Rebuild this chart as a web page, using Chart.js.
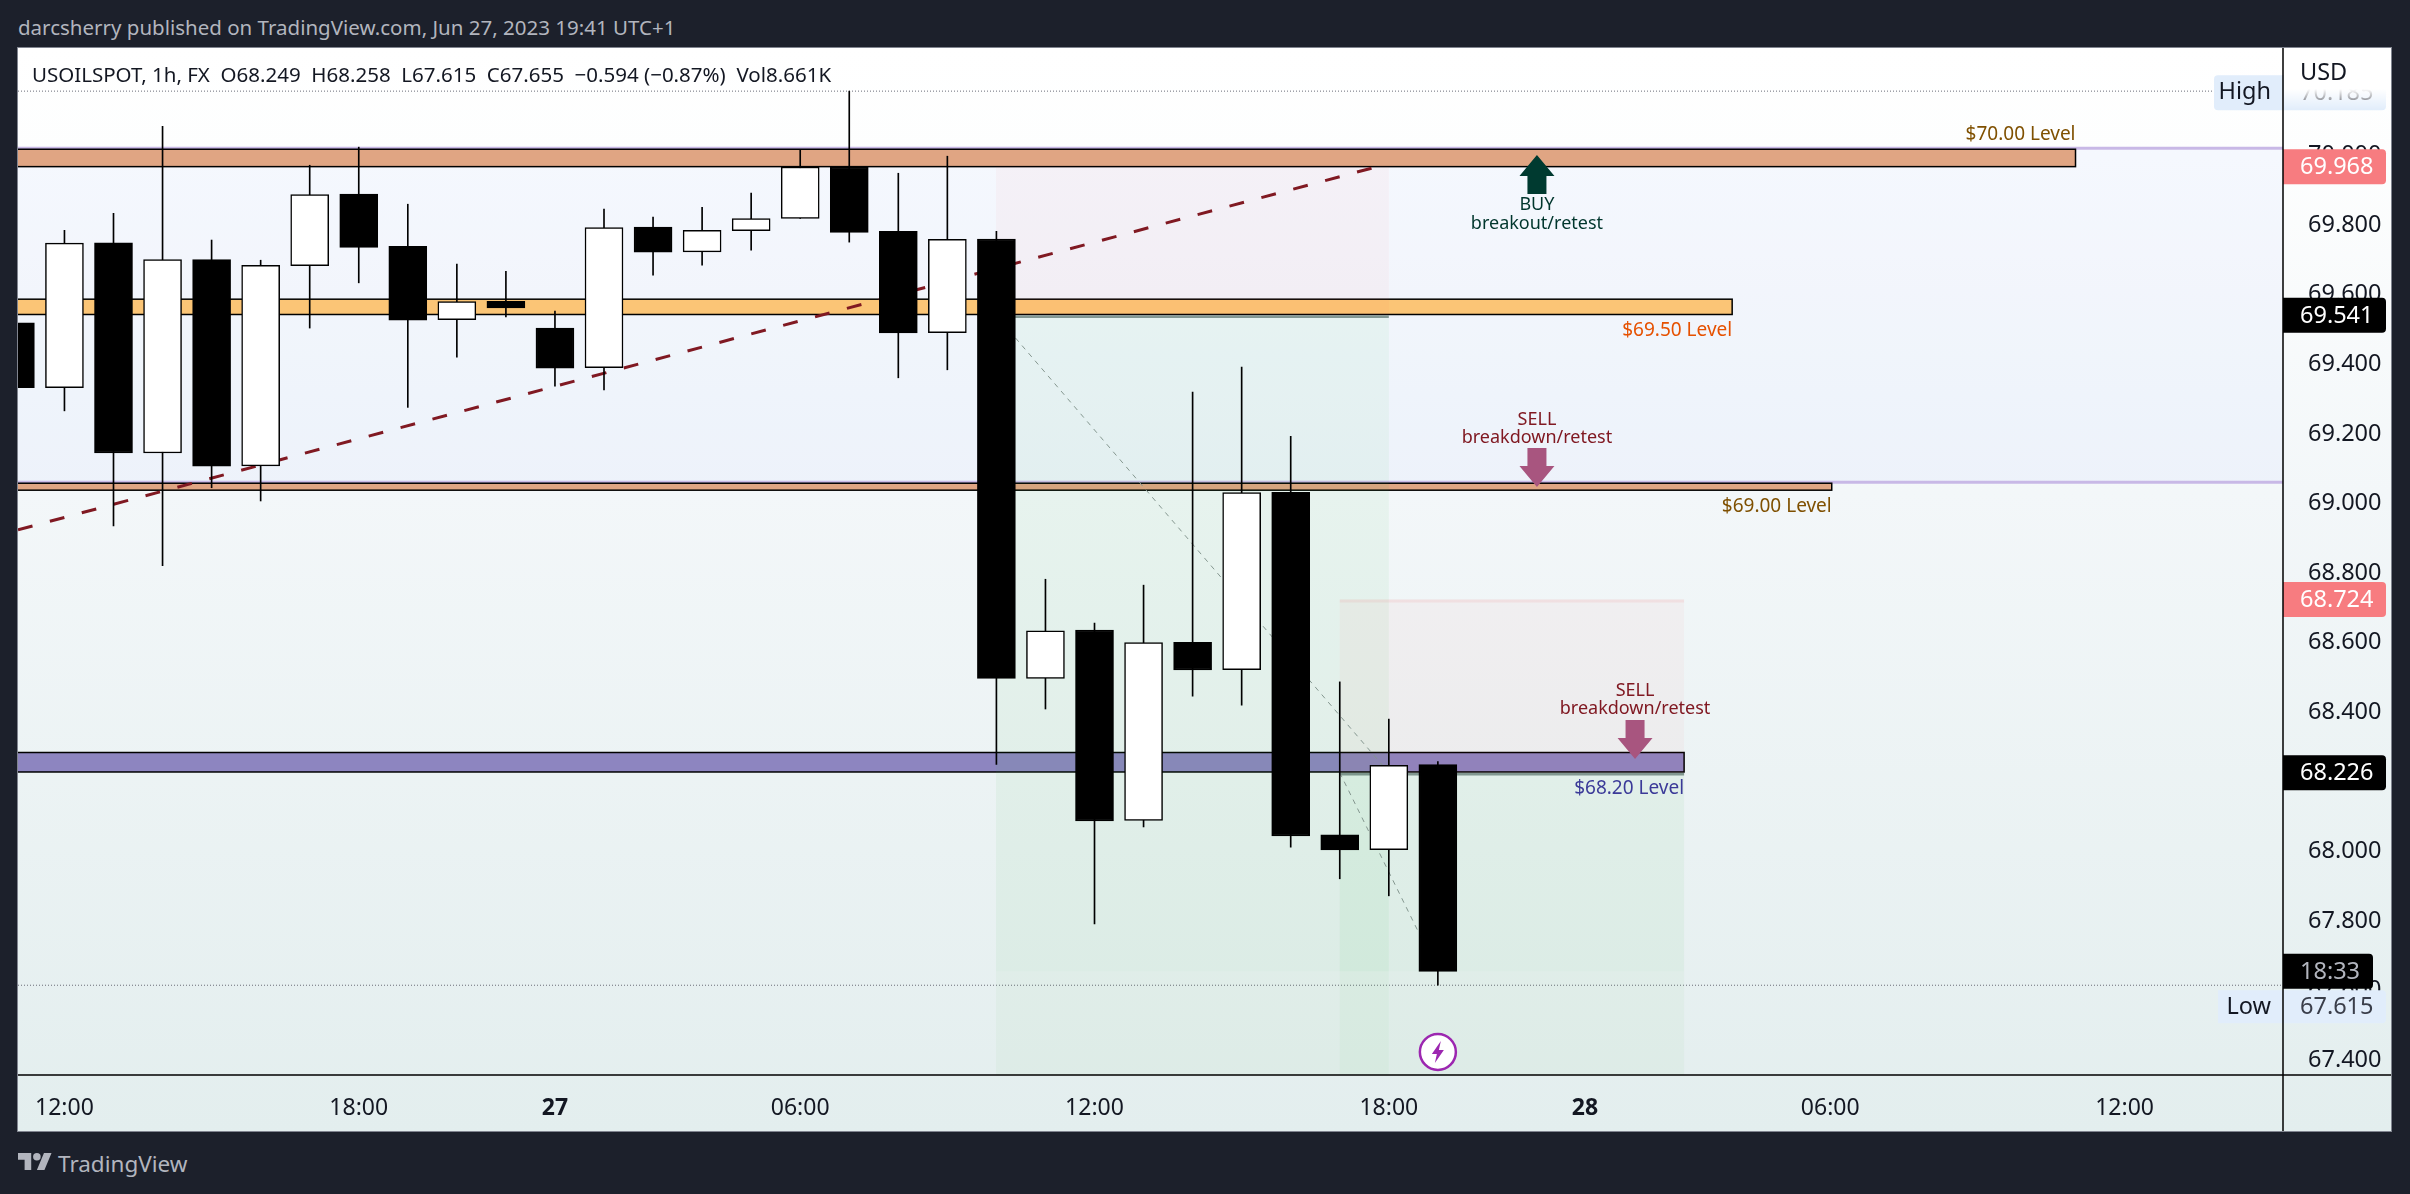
<!DOCTYPE html>
<html>
<head>
<meta charset="utf-8">
<title>USOILSPOT</title>
<script src="https://cdn.jsdelivr.net/npm/chart.js@4"></script>
<style>
    html, body { margin: 0; padding: 0; width: 2410px; height: 1194px; overflow: hidden; background: #1c202b; }
    body { font-family: "Noto Sans", sans-serif; position: relative; }
    #header { position: absolute; left: 18px; top: 13px; font-size: 20.5px; line-height: 28px; color: #b2b5be; white-space: nowrap; }
    #frame {
        position: absolute; left: 18px; top: 48px; width: 2373px; height: 1083px;
        outline: 1.5px solid #80848f;
        background: linear-gradient(180deg, #ffffff 0%, #fdfefe 10%, #f3f7f9 41%, #e3eeee 100%);
    }
    #frame canvas { display: block; }
    #logo { position: absolute; left: 18px; top: 1149px; width: 34px; height: 27px; fill: #b2b5be; }
    #brand { position: absolute; left: 58px; top: 1148px; font-size: 22.5px; line-height: 32px; color: #b2b5be; }
</style>
</head>
<body>
<div id="header">darcsherry published on TradingView.com, Jun 27, 2023 19:41 UTC+1</div>
<div id="frame"><canvas id="chart" width="2373" height="1083"></canvas></div>
<svg id="logo" viewBox="0 0 36 28"><path d="M14 22H7V11H0V4h14v18zM28 22h-8l7.5-18h8L28 22z"></path><circle cx="20" cy="8" r="4"></circle></svg>
<div id="brand">TradingView</div>

<script>
// Hourly candles, index 0 is clipped by the left edge of the chart
const OPENS  = [69.519, 69.333, 69.749, 69.145, 69.701, 69.108, 69.683, 69.889, 69.739, 69.528, 69.581, 69.504, 69.390, 69.794, 69.723, 69.784, 69.819, 69.967, 69.782, 69.491, 69.760, 68.497, 68.636, 68.089, 68.601, 68.522, 69.032, 68.047, 68.005, 68.249];
const HIGHS  = [69.560, 69.785, 69.834, 70.084, 69.757, 69.699, 69.972, 70.024, 69.860, 69.688, 69.667, 69.553, 69.846, 69.823, 69.851, 69.892, 70.015, 70.185, 69.949, 69.998, 69.782, 68.782, 68.656, 68.765, 69.320, 69.392, 69.193, 68.487, 68.380, 68.258];
const LOWS   = [69.300, 69.266, 68.935, 68.821, 69.045, 69.007, 69.504, 69.634, 69.276, 69.420, 69.536, 69.337, 69.326, 69.656, 69.685, 69.728, 69.819, 69.751, 69.361, 69.384, 68.250, 68.409, 67.791, 68.070, 68.446, 68.420, 68.012, 67.921, 67.872, 67.615];
const CLOSES = [69.333, 69.748, 69.145, 69.701, 69.107, 69.684, 69.888, 69.736, 69.527, 69.580, 69.562, 69.389, 69.793, 69.722, 69.785, 69.819, 69.967, 69.779, 69.490, 69.759, 68.497, 68.634, 68.087, 68.600, 68.521, 69.031, 68.044, 68.004, 68.247, 67.655];

const TIME_TICK_INDEX  = [1, 7, 11, 16, 22, 28, 32, 37, 43];
const TIME_TICK_LABELS = ['12:00', '18:00', '27', '06:00', '12:00', '18:00', '28', '06:00', '12:00'];
const DAY_TICK_LABELS  = ['27', '28'];

// Support and resistance levels
const LEVEL_TOP    = [70.018, 69.587, 69.058, 68.284];
const LEVEL_BOTTOM = [69.968, 69.543, 69.038, 68.228];
const LEVEL_END    = [42.0, 35.0, 37.03, 34.02];
const LEVEL_NAMES  = ['$70.00 Level', '$69.50 Level', '$69.00 Level', '$68.20 Level'];
const LEVEL_COLORS = ['#e0a583', '#fbc576', '#e0a583', '#8d85c0'];
const LEVEL_TEXT   = ['#7f5001', '#e65100', '#7f5001', '#3b3a98'];

// Short position tools
const ZONE_START = [19.99, 27.0];
const ZONE_END   = [28.0, 34.02];
const ZONE_STOP  = [69.968, 68.724];
const ZONE_ENTRY = [69.541, 68.226];
const ZONE_CLOSE = [67.655, 67.655];
const ZONE_LIMIT = 67.3;

// Rising trend line
const TREND_X = [0.053, 27.66];
const TREND_Y = [68.924, 69.964];

// Paths of the two trades
const TRADE1_X = [19.99, 28.0];
const TRADE1_Y = [69.541, 68.226];
const TRADE2_X = [27.0, 29.0];
const TRADE2_Y = [68.226, 67.655];

const HIGH_PRICE = 70.185;
const LOW_PRICE = 67.615;
const STOP_TAGS = [69.968, 68.724];
const ENTRY_TAGS = [69.541, 68.226];
const LAST_CLOSE = 67.655;

const AXIS_FONT = '"Noto Sans", sans-serif';
const INK = '#131722';

function points(xs, ys) {
    return xs.map((x, i) => ({ x: x, y: ys[i] }));
}

function drawText(ctx, str, x, y, font, color, align) {
    ctx.font = font;
    ctx.fillStyle = color;
    ctx.textAlign = align || 'left';
    ctx.textBaseline = 'middle';
    ctx.fillText(str, x, y);
}

function priceTag(ctx, x, y, w, h, bg, label, color) {
    ctx.fillStyle = bg;
    ctx.beginPath();
    ctx.roundRect(x, y, w, h, [0, 4, 4, 0]);
    ctx.fill();
    drawText(ctx, label, x + 17, y + h / 2 + 1, '23.5px ' + AXIS_FONT, color);
}

function hline(ctx, x0, x1, y, color, width) {
    ctx.strokeStyle = color;
    ctx.lineWidth = width;
    ctx.beginPath();
    ctx.moveTo(x0, y);
    ctx.lineTo(x1, y);
    ctx.stroke();
}

function arrow(ctx, x, tail, base, tip, color) {
    ctx.fillStyle = color;
    ctx.beginPath();
    ctx.moveTo(x - 9.5, tail);
    ctx.lineTo(x + 9.5, tail);
    ctx.lineTo(x + 9.5, base);
    ctx.lineTo(x + 17.5, base);
    ctx.lineTo(x, tip);
    ctx.lineTo(x - 17.5, base);
    ctx.lineTo(x - 9.5, base);
    ctx.closePath();
    ctx.fill();
}

// Everything that sits under the candles
const underlay = {
    id: 'underlay',
    beforeDatasetsDraw(chart) {
        const { ctx, chartArea: area, scales: { x, y } } = chart;
        ctx.save();
        ctx.beginPath();
        ctx.rect(area.left, area.top, area.width, area.height);
        ctx.clip();

        // faint blue band between the $70 and $69 levels
        ctx.fillStyle = 'rgba(205,222,255,0.17)';
        ctx.fillRect(area.left, y.getPixelForValue(LEVEL_TOP[0]), area.width, y.getPixelForValue(LEVEL_TOP[2]) - y.getPixelForValue(LEVEL_TOP[0]));

        // high and low dotted lines
        ctx.save();
        ctx.setLineDash([1, 2]);
        hline(ctx, area.left, area.right - 69, y.getPixelForValue(HIGH_PRICE), '#6a6d78', 1);
        hline(ctx, area.left, area.right, y.getPixelForValue(LOW_PRICE), '#6a6d78', 1);
        ctx.restore();

        // purple rulers on the upper edge of two levels
        hline(ctx, area.left, area.right, y.getPixelForValue(LEVEL_TOP[0]) - 1, '#c8b8e6', 3);
        hline(ctx, area.left, area.right, y.getPixelForValue(LEVEL_TOP[2]) - 1, '#c8b8e6', 3);

        // level boxes
        LEVEL_TOP.forEach((top, i) => {
            const y0 = y.getPixelForValue(top);
            const y1 = y.getPixelForValue(LEVEL_BOTTOM[i]);
            const x1 = x.getPixelForValue(LEVEL_END[i]);
            ctx.fillStyle = LEVEL_COLORS[i];
            ctx.fillRect(area.left - 2, y0, x1 - area.left + 2, y1 - y0);
            ctx.strokeStyle = '#000000';
            ctx.lineWidth = 1.5;
            ctx.strokeRect(area.left - 2, y0, x1 - area.left + 2, y1 - y0);
        });

        // position tools
        ZONE_START.forEach((start, i) => {
            const x0 = x.getPixelForValue(start);
            const x1 = x.getPixelForValue(ZONE_END[i]);
            const stop = y.getPixelForValue(ZONE_STOP[i]);
            const entry = y.getPixelForValue(ZONE_ENTRY[i]);
            const close = y.getPixelForValue(ZONE_CLOSE[i]);
            const limit = y.getPixelForValue(ZONE_LIMIT);
            ctx.fillStyle = 'rgba(242,54,69,0.035)';
            ctx.fillRect(x0, stop, x1 - x0, entry - stop);
            ctx.fillStyle = 'rgba(76,190,80,0.045)';
            ctx.fillRect(x0, entry, x1 - x0, limit - entry);
            ctx.fillStyle = 'rgba(76,190,80,0.02)';
            ctx.fillRect(x0, entry, x1 - x0, close - entry);
            hline(ctx, x0, x1, entry + 1.5, 'rgba(70,95,88,0.62)', 2.5);
        });
        hline(ctx, x.getPixelForValue(ZONE_START[1]), x.getPixelForValue(ZONE_END[1]), y.getPixelForValue(ZONE_STOP[1]) + 1.5, 'rgba(242,54,69,0.08)', 3);
        ctx.restore();
    },
    afterDatasetsDraw(chart) {
        const { ctx, scales: { x, y } } = chart;
        ctx.save();

        LEVEL_NAMES.forEach((name, i) => {
            const off = i === 0 ? -15 : 16.5;
            const anchor = i === 0 ? LEVEL_TOP[i] : LEVEL_BOTTOM[i];
            drawText(ctx, name, x.getPixelForValue(LEVEL_END[i]), y.getPixelForValue(anchor) + off, '19px ' + AXIS_FONT, LEVEL_TEXT[i], 'right');
        });

        // BUY and SELL notes
        const note = '18px ' + AXIS_FONT;
        const buyX = x.getPixelForValue(31.02);
        arrow(ctx, buyX, 146, 128, 107, '#003a30');
        drawText(ctx, 'BUY', buyX, 157, note, '#00362d', 'center');
        drawText(ctx, 'breakout/retest', buyX, 175.5, note, '#00362d', 'center');

        const sellX = x.getPixelForValue(31.02);
        drawText(ctx, 'SELL', sellX, 372, note, '#801922', 'center');
        drawText(ctx, 'breakdown/retest', sellX, 390, note, '#801922', 'center');
        arrow(ctx, sellX, 400, 418, 439, '#a8557f');

        const sell2X = x.getPixelForValue(33.02);
        drawText(ctx, 'SELL', sell2X, 643, note, '#801922', 'center');
        drawText(ctx, 'breakdown/retest', sell2X, 661, note, '#801922', 'center');
        arrow(ctx, sell2X, 672, 690, 711, '#a8557f');

        // lightning mark under the last candle
        const bx = x.getPixelForValue(29);
        const by = 1004;
        ctx.beginPath();
        ctx.arc(bx, by, 18, 0, Math.PI * 2);
        ctx.fillStyle = '#ffffff';
        ctx.fill();
        ctx.strokeStyle = '#9c27b0';
        ctx.lineWidth = 2.5;
        ctx.stroke();
        ctx.fillStyle = '#9c27b0';
        ctx.beginPath();
        ctx.moveTo(bx + 3, by - 11);
        ctx.lineTo(bx - 6, by + 2);
        ctx.lineTo(bx - 1, by + 2);
        ctx.lineTo(bx - 3, by + 11);
        ctx.lineTo(bx + 6, by - 2);
        ctx.lineTo(bx + 1, by - 2);
        ctx.closePath();
        ctx.fill();
        ctx.restore();
    },
    afterDraw(chart) {
        const { ctx, chartArea: area, scales: { y } } = chart;
        const axisW = 103;
        const tagH = 35;
        ctx.save();

        // High tag, faded under the currency label
        const hy = y.getPixelForValue(HIGH_PRICE) + 1;
        ctx.fillStyle = '#e1edfb';
        ctx.beginPath();
        ctx.roundRect(area.right - 69, hy - 17, 69, 35, [4, 0, 0, 4]);
        ctx.fill();
        drawText(ctx, 'High', area.right - 12, hy, '23.5px ' + AXIS_FONT, INK, 'right');
        priceTag(ctx, area.right, hy - 17, axisW, tagH, '#e1edfb', HIGH_PRICE.toFixed(3), '#3a3e4a');
        const fade = ctx.createLinearGradient(0, 0, 0, hy + 18);
        fade.addColorStop(0, '#ffffff');
        fade.addColorStop(0.66, '#ffffff');
        fade.addColorStop(1, 'rgba(255,255,255,0)');
        ctx.fillStyle = fade;
        ctx.fillRect(area.right + 1, 0, axisW + 3, hy + 18);
        drawText(ctx, 'USD', area.right + 17, 25, '23.5px ' + AXIS_FONT, INK);

        STOP_TAGS.forEach(v => {
            priceTag(ctx, area.right, y.getPixelForValue(v) - tagH / 2, axisW, tagH, '#f77c80', v.toFixed(3), '#ffffff');
        });
        ENTRY_TAGS.forEach(v => {
            priceTag(ctx, area.right, y.getPixelForValue(v) - tagH / 2, axisW, tagH, '#000000', v.toFixed(3), '#ffffff');
        });

        // countdown and low tags
        priceTag(ctx, area.right, y.getPixelForValue(LAST_CLOSE) - tagH / 2, 90, tagH, '#000000', '18:33', '#b2b5be');
        const ly = y.getPixelForValue(LOW_PRICE) + 5;
        ctx.fillStyle = '#e1edfb';
        ctx.fillRect(area.right - 65, ly, 65, 33);
        drawText(ctx, 'Low', area.right - 12, ly + 17, '23.5px ' + AXIS_FONT, INK, 'right');
        priceTag(ctx, area.right, ly, axisW, 33, '#e1edfb', LOW_PRICE.toFixed(3), '#3a3e4a');

        // axis rules
        ctx.strokeStyle = '#000000';
        ctx.lineWidth = 1.5;
        ctx.beginPath();
        ctx.moveTo(area.right, 0);
        ctx.lineTo(area.right, chart.height);
        ctx.moveTo(area.left, area.bottom);
        ctx.lineTo(chart.width, area.bottom);
        ctx.stroke();

        // symbol legend
        drawText(ctx, 'USOILSPOT, 1h, FX  O68.249  H68.258  L67.615  C67.655  \u22120.594 (\u22120.87%)  Vol8.661K', 14, 28, '20.5px ' + AXIS_FONT, INK);
        ctx.restore();
    }
};

const candleIndex = OPENS.map((_, i) => i);

new Chart(document.getElementById('chart'), {
    data: {
        datasets: [
            {
                type: 'bar',
                order: 1,
                grouped: false,
                data: candleIndex.map(i => ({ x: i, y: [CLOSES[i], OPENS[i]] })),
                barThickness: 38,
                borderWidth: 1.5,
                borderSkipped: false,
                borderColor: '#000000',
                backgroundColor: candleIndex.map(i => CLOSES[i] >= OPENS[i] ? '#ffffff' : '#000000')
            },
            {
                type: 'bar',
                order: 2,
                grouped: false,
                data: candleIndex.map(i => ({ x: i, y: [LOWS[i], HIGHS[i]] })),
                barThickness: 1,
                borderWidth: 0,
                backgroundColor: '#000000'
            },
            {
                type: 'line',
                order: 3,
                data: points(TRADE1_X, TRADE1_Y),
                borderColor: '#84968f',
                borderWidth: 1,
                borderDash: [5, 5],
                pointRadius: 0
            },
            {
                type: 'line',
                order: 3,
                data: points(TRADE2_X, TRADE2_Y),
                borderColor: '#84968f',
                borderWidth: 1,
                borderDash: [5, 5],
                pointRadius: 0
            },
            {
                type: 'line',
                order: 4,
                data: points(TREND_X, TREND_Y),
                borderColor: '#801922',
                borderWidth: 3,
                borderDash: [15, 18],
                pointRadius: 0
            }
        ]
    },
    options: {
        responsive: false,
        animation: false,
        devicePixelRatio: 1,
        layout: { padding: 0, autoPadding: false },
        plugins: { legend: { display: false }, tooltip: { enabled: false } },
        scales: {
            x: {
                type: 'linear',
                offset: false,
                min: 0.053,
                max: 46.23,
                grid: { display: false, offset: false },
                border: { display: false },
                afterBuildTicks: scale => { scale.ticks = TIME_TICK_INDEX.map(v => ({ value: v })); },
                afterFit: scale => { scale.height = 56; scale.paddingLeft = 0; scale.paddingRight = 0; },
                ticks: {
                    autoSkip: false,
                    maxRotation: 0,
                    padding: 12,
                    color: INK,
                    font: ctx => {
                        const label = ctx.tick ? TIME_TICK_LABELS[TIME_TICK_INDEX.indexOf(ctx.tick.value)] : '';
                        return { family: AXIS_FONT, size: 23, weight: DAY_TICK_LABELS.includes(label) ? 'bold' : 'normal' };
                    },
                    callback: value => TIME_TICK_LABELS[TIME_TICK_INDEX.indexOf(value)]
                }
            },
            y: {
                type: 'linear',
                position: 'right',
                min: 67.357,
                max: 70.309,
                grid: { display: false },
                border: { display: false },
                afterFit: scale => { scale.width = 108; scale.paddingTop = 0; scale.paddingBottom = 0; },
                ticks: {
                    stepSize: 0.2,
                    includeBounds: false,
                    crossAlign: 'near',
                    padding: 17,
                    color: INK,
                    font: { family: AXIS_FONT, size: 23.5 },
                    callback: value => value.toFixed(3)
                }
            }
        }
    },
    plugins: [underlay]
});
</script>
</body>
</html>
